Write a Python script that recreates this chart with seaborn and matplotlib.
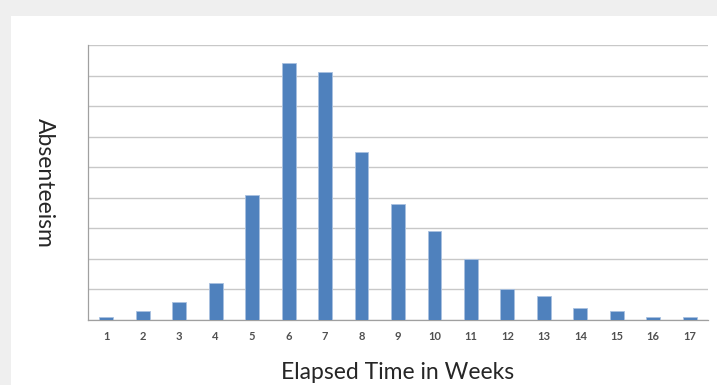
import numpy as np
import pandas as pd
import seaborn as sns
import matplotlib.pyplot as plt
from matplotlib.patches import Rectangle

weeks = [str(w) for w in range(1, 18)]
absenteeism = [1, 3, 6, 12, 41, 84, 81, 55, 38, 29, 20, 10, 8, 4, 3, 1, 1]

df = pd.DataFrame({"week": weeks, "absent": absenteeism})

sns.set_style("white")
plt.rcParams["font.family"] = ["Lato", "DejaVu Sans"]

fig = plt.figure(figsize=(7.17, 3.85), dpi=100)
fig.patch.set_facecolor("#efefef")
# white slide panel
fig.patches.append(Rectangle((11 / 717, 0), 1, 1 - 16 / 385, transform=fig.transFigure,
                             facecolor="white", edgecolor="none", zorder=-5))

ax = fig.add_axes([88 / 717, 65 / 385, 620 / 717, 275 / 385])
ax.set_zorder(2)
ax.set_facecolor("none")

sns.barplot(data=df, x="week", y="absent", color="#4f81bd", width=0.38,
            edgecolor="#a9c1e0", linewidth=0.6, saturation=1, ax=ax, zorder=3)

ax.set_ylim(0, 90)
ax.set_xlim(-0.5, 16.5)
ax.set_yticks(np.arange(0, 91, 10))
ax.set_yticklabels([])
ax.grid(axis="y", color="#c8c8c8", linewidth=1)
ax.set_axisbelow(True)

# category boundary tick marks
ax.set_xticks(np.arange(-0.5, 17, 1), minor=True)
ax.tick_params(axis="x", which="major", length=0, pad=8, labelsize=8, labelcolor="#505050")
ax.tick_params(axis="x", which="minor", length=4, width=0.8, color="#a0a0a0", direction="out")
ax.tick_params(axis="y", length=5, width=0.8, color="#a0a0a0", direction="out")
for lab in ax.get_xticklabels():
    lab.set_fontweight("bold")

for side in ["top", "right"]:
    ax.spines[side].set_visible(False)
for side in ["left", "bottom"]:
    ax.spines[side].set_color("#a0a0a0")
    ax.spines[side].set_linewidth(0.9)

ax.set_xlabel("Elapsed Time in Weeks", fontsize=16.5, labelpad=14)
ax.set_ylabel("Absenteeism", fontsize=16.5, rotation=270, va="bottom")
ax.yaxis.set_label_coords(-0.087, 0.5)

fig.savefig("out.png", dpi=100, facecolor=fig.get_facecolor())
